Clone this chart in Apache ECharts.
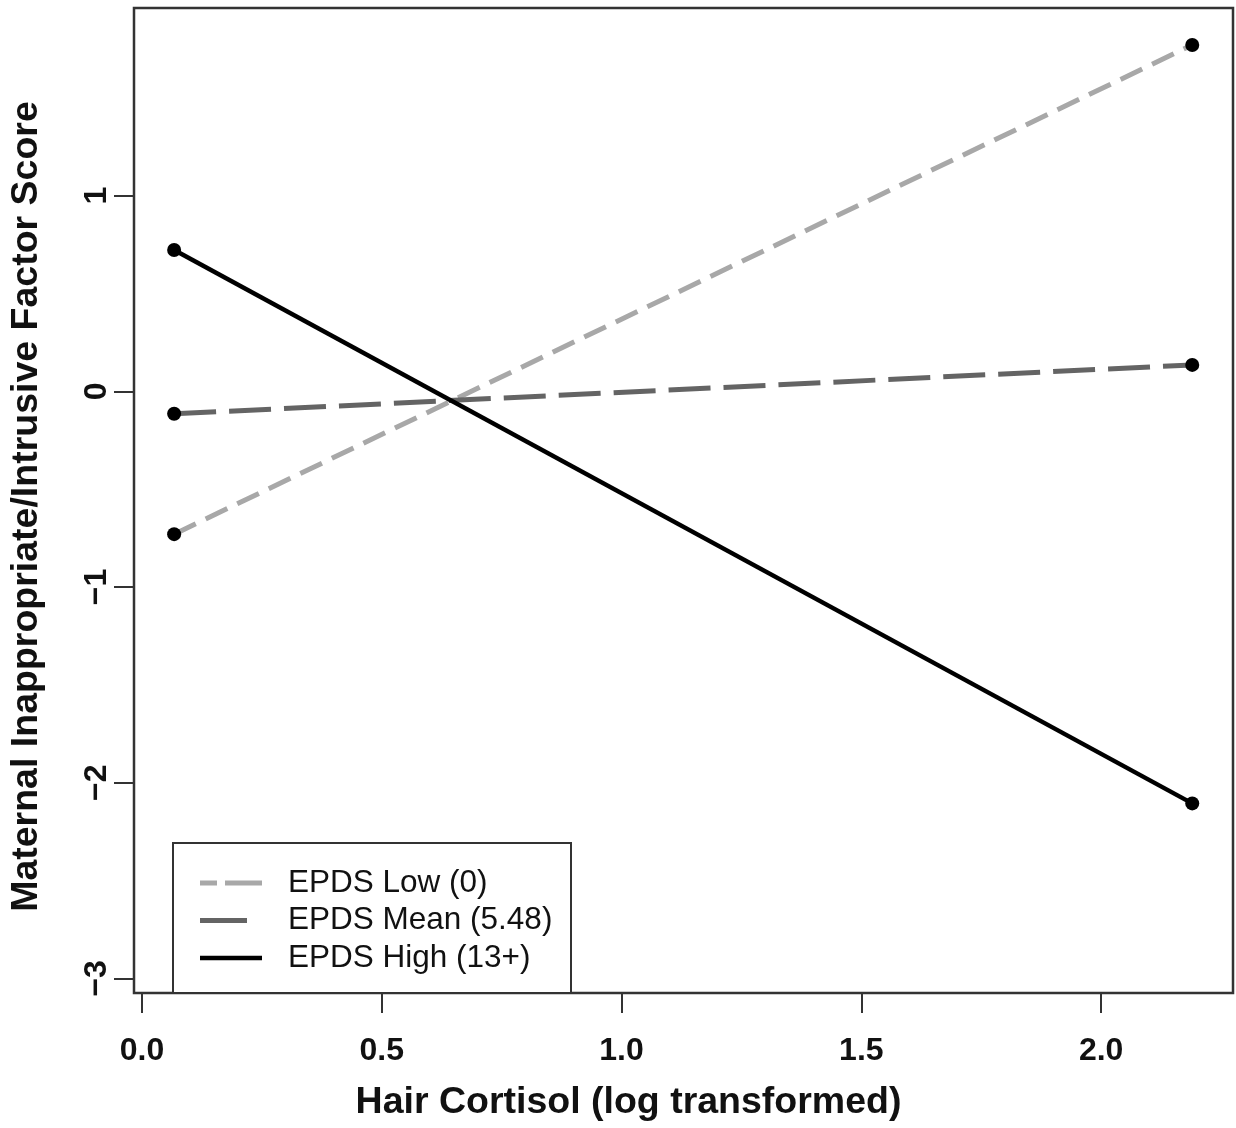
<!DOCTYPE html>
<html>
<head>
<meta charset="utf-8">
<script src="https://cdn.jsdelivr.net/npm/echarts@6/dist/echarts.min.js"></script>
<style>
html,body{margin:0;padding:0;background:#fff;}
#chart{width:1236px;height:1128px;}
</style>
</head>
<body>
<div id="chart"></div>
<script>
// ---- data ----
const xCortisol = [0.067, 2.19];
const lowVals = [-0.73, 1.77];
const meanVals = [-0.115, 0.135];
const highVals = [0.722, -2.106];
const seriesNames = ['EPDS Low (0)', 'EPDS Mean (5.48)', 'EPDS High (13+)'];
const xTicks = [0, 0.5, 1.0, 1.5, 2.0];
const xTickLabels = ['0.0', '0.5', '1.0', '1.5', '2.0'];
const yTicks = [-3, -2, -1, 0, 1];
const yTickLabels = ['\u22123', '\u22122', '\u22121', '0', '1'];

const FONT = '"Liberation Sans", Arial, Helvetica, sans-serif';
const chart = echarts.init(document.getElementById('chart'));

function pairs(xs, ys){ return xs.map((x,i)=>[x, ys[i]]); }
const allPoints = [].concat(pairs(xCortisol, lowVals), pairs(xCortisol, meanVals), pairs(xCortisol, highVals));

const seriesStyles = [
  {color: '#a8a8a8', width: 5, dash: [24, 11], legendDash: [17, 8, 37, 8]},
  {color: '#646464', width: 5, dash: [42, 13], legendDash: [47, 30]},
  {color: '#000000', width: 4.5, dash: null, legendDash: null}
];

// legend drawn as graphic elements
const legendEls = [{
  type: 'rect', shape: {x: 173, y: 843, width: 398, height: 150},
  style: {fill: '#fff', stroke: '#333', lineWidth: 2}, z: 100
}];
seriesNames.forEach((name, i) => {
  const cy = 883 + i * 37.5;
  const st = seriesStyles[i];
  legendEls.push({
    type: 'line', shape: {x1: 200, y1: cy, x2: 262, y2: cy},
    style: {stroke: st.color, lineWidth: st.width, lineDash: st.legendDash || null}, z: 101
  });
  legendEls.push({
    type: 'text', x: 288, y: cy,
    style: {text: name, font: '31.5px ' + FONT, fill: '#111', textVerticalAlign: 'middle', textAlign: 'left'}, z: 101
  });
});

const option = {
  animation: false,
  backgroundColor: '#fff',
  grid: {
    left: 133, right: 3, top: 8, bottom: 135,
    show: true, borderColor: '#333', borderWidth: 2.5, backgroundColor: '#fff'
  },
  xAxis: {
    type: 'value', min: -0.0167, max: 2.275,
    axisLine: {show: false, onZero: false},
    splitLine: {show: false},
    axisTick: {show: true, length: 20, lineStyle: {color: '#333', width: 2}, customValues: xTicks},
    axisLabel: {
      customValues: xTicks, margin: 42,
      formatter: v => { const i = xTicks.findIndex(t => Math.abs(t - v) < 1e-9); return i >= 0 ? xTickLabels[i] : ''; },
      fontFamily: FONT, fontWeight: 'bold', fontSize: 32, color: '#111'
    },
    name: 'Hair Cortisol (log transformed)', nameLocation: 'middle', nameGap: 91,
    nameTextStyle: {fontFamily: FONT, fontWeight: 'bold', fontSize: 37.5, color: '#111', padding: [0, 110, 0, 0]}
  },
  yAxis: {
    type: 'value', min: -3.075, max: 1.959,
    axisLine: {show: false, onZero: false},
    splitLine: {show: false},
    axisTick: {show: true, length: 20, lineStyle: {color: '#333', width: 2}, customValues: yTicks},
    axisLabel: {
      customValues: yTicks, margin: 21, rotate: 90,
      formatter: v => { const i = yTicks.findIndex(t => Math.abs(t - v) < 1e-9); return i >= 0 ? yTickLabels[i] : ''; },
      fontFamily: FONT, fontWeight: 'bold', fontSize: 32, color: '#111'
    },
    name: 'Maternal Inappropriate/Intrusive Factor Score', nameLocation: 'middle', nameGap: 88,
    nameTextStyle: {fontFamily: FONT, fontWeight: 'bold', fontSize: 37.5, color: '#111', padding: [0, 12, 0, 0]}
  },
  graphic: legendEls,
  series: [
    {name: seriesNames[0], type: 'line', symbol: 'none', data: pairs(xCortisol, lowVals),
     lineStyle: {color: seriesStyles[0].color, width: seriesStyles[0].width, type: seriesStyles[0].dash}, z: 2},
    {name: seriesNames[1], type: 'line', symbol: 'none', data: pairs(xCortisol, meanVals),
     lineStyle: {color: seriesStyles[1].color, width: seriesStyles[1].width, type: seriesStyles[1].dash}, z: 3},
    {name: seriesNames[2], type: 'line', symbol: 'none', data: pairs(xCortisol, highVals),
     lineStyle: {color: seriesStyles[2].color, width: seriesStyles[2].width}, z: 4},
    {name: 'points', type: 'scatter', data: allPoints, symbolSize: 14,
     itemStyle: {color: '#000', opacity: 1}, z: 5}
  ]
};
chart.setOption(option);
</script>
</body>
</html>
